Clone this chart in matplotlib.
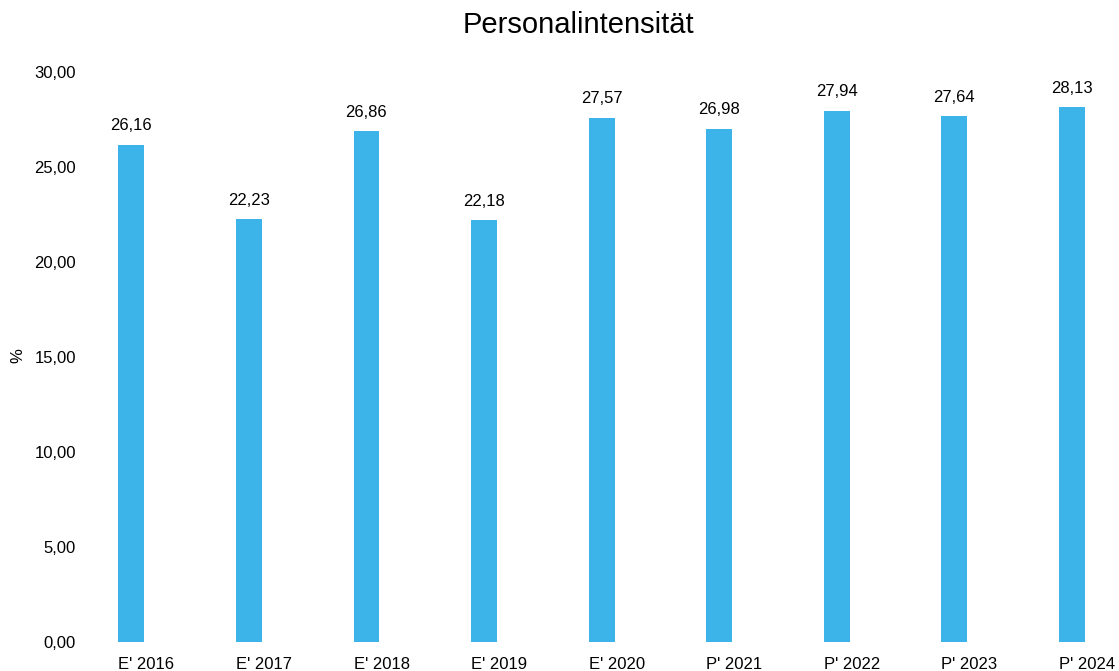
import matplotlib
matplotlib.use('Agg')
import matplotlib.pyplot as plt

categories = ["E' 2016", "E' 2017", "E' 2018", "E' 2019", "E' 2020",
              "P' 2021", "P' 2022", "P' 2023", "P' 2024"]
values = [26.16, 22.23, 26.86, 22.18, 27.57, 26.98, 27.94, 27.64, 28.13]
yticks = [0, 5, 10, 15, 20, 25, 30]

plt.rcParams['font.family'] = ['Liberation Sans', 'DejaVu Sans']

fig = plt.figure(figsize=(11.19, 6.71), dpi=100)
ax = fig.add_axes((0.0742, 0.0432, 0.9269, 0.8502))

x = list(range(len(categories)))
w = 0.22
ax.bar(x, values, width=w, color='#3cb4e9')
for xi, v in zip(x, values):
    ax.annotate(f"{v:.2f}".replace('.', ','), (xi, v), xytext=(0, 10.5),
                textcoords='offset points', ha='center', va='baseline', fontsize=12)

ax.set_xlim(-0.41, 8.41)
ax.set_ylim(0, 30)
# category labels start at the left edge of each bar
ax.set_xticks([xi - w / 2 for xi in x])
ax.set_xticklabels(categories, fontsize=12, ha='left')
ax.set_yticks(yticks)
ax.set_yticklabels([f"{t:.2f}".replace('.', ',') for t in yticks], fontsize=12)
ax.tick_params(axis='y', length=0, pad=5)
ax.tick_params(axis='x', length=0, pad=11)
for s in ax.spines.values():
    s.set_visible(False)

fig.text(18 / 1119, 1 - 356 / 671, '%', rotation=90, ha='center', va='center', fontsize=12)
fig.text(578 / 1119, 1 - 33 / 671, 'Personalintensität', ha='center', va='baseline', fontsize=21)

fig.savefig('out.png', dpi=100)
